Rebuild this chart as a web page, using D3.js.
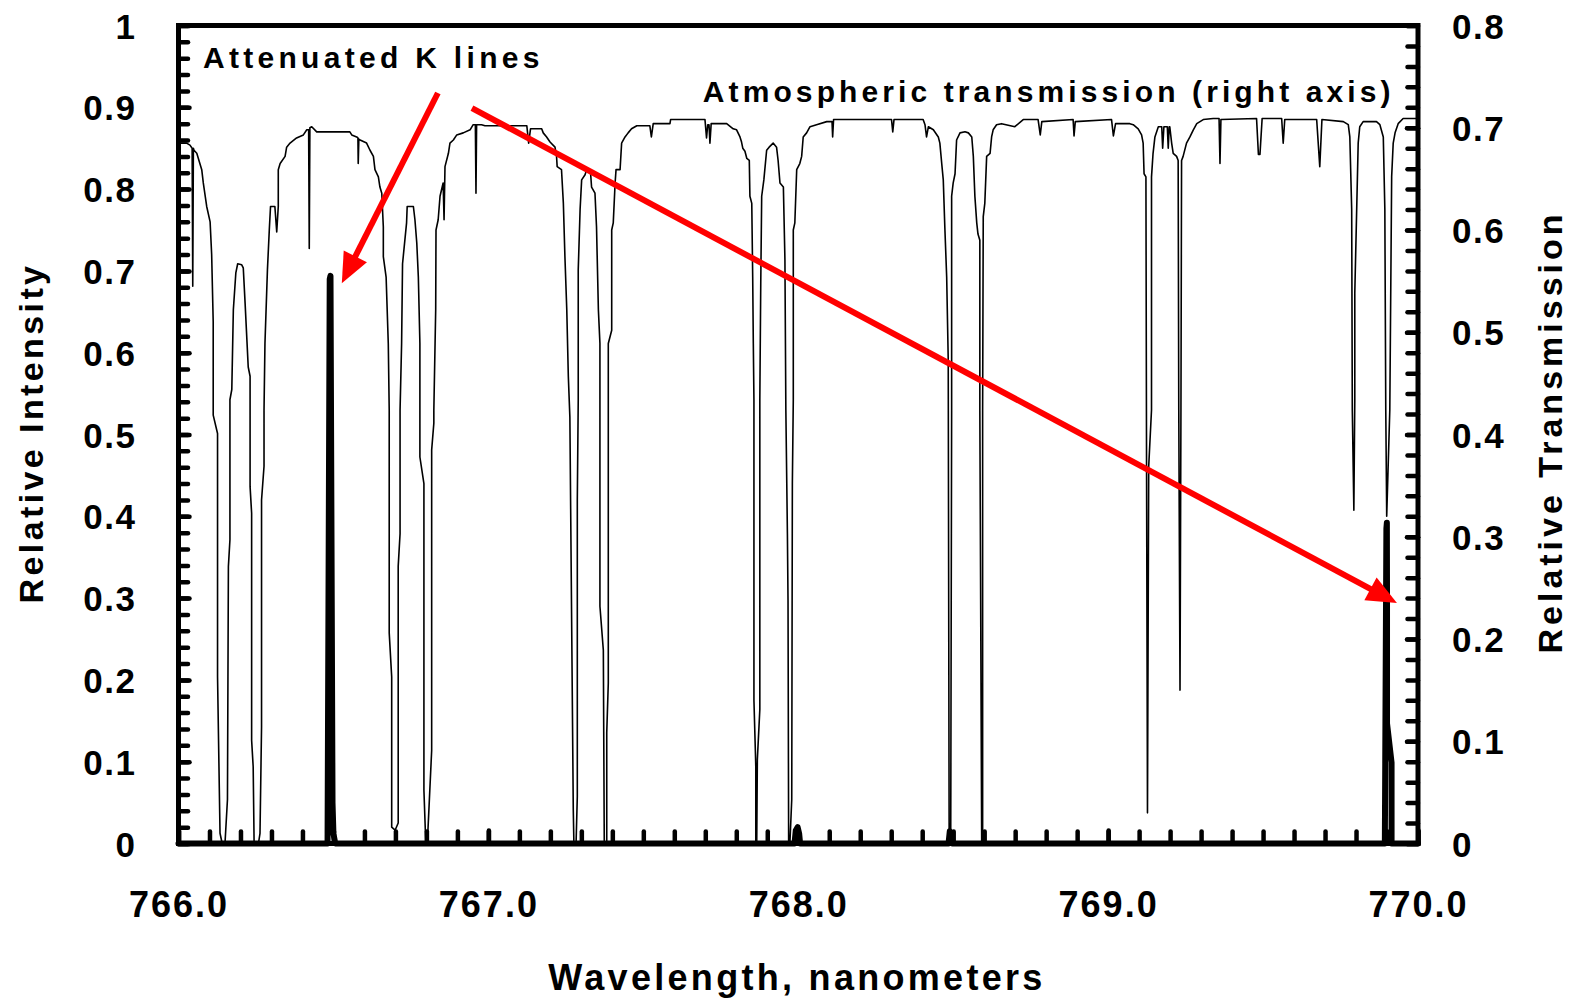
<!DOCTYPE html>
<html>
<head>
<meta charset="utf-8">
<title>Attenuated K lines</title>
<script src="https://d3js.org/d3.v7.min.js"></script>
<style>
	* { margin:0; padding:0; }
	body { background:#fff; }
	svg { display:block; font-family:"Liberation Sans", Arial, sans-serif; }
	svg text { font-weight:bold; fill:#000; }
	.axis .domain { display:none; }
	.axis line { stroke:#000; stroke-width:4.5; stroke-linecap:round; }
	.axis text { font-size:35px; letter-spacing:1.5px; font-family:"Liberation Sans", Arial, sans-serif; }
	.axis.x text { font-size:36px; letter-spacing:2px; }
</style>
</head>
<body>
<svg id="chart" width="1577" height="1000"></svg>
<script>
// atmospheric transmission (right axis)
const wavelength = [
	766.000,766.026,766.037,766.044,766.046,766.048,766.050,766.059,766.075,766.080,766.091,766.102,766.107,766.112,766.112,766.126,766.126,766.134,766.141,
	766.150,766.158,766.161,766.166,766.166,766.172,766.177,766.185,766.191,766.204,766.209,766.215,766.225,766.231,766.231,766.236,766.236,766.241,766.244,
	766.258,766.263,766.268,766.268,766.276,766.276,766.279,766.287,766.293,766.297,766.311,766.317,766.322,766.322,766.328,766.344,766.349,766.360,766.381,
	766.403,766.414,766.420,766.422,766.424,766.430,766.446,766.553,766.559,766.575,766.579,766.580,766.582,766.586,766.607,766.618,766.629,766.634,766.645,
	766.650,766.656,766.661,766.661,766.670,766.677,766.680,766.680,766.688,766.688,766.699,766.709,766.709,766.715,766.715,766.720,766.723,766.736,766.738,
	766.758,766.763,766.769,766.774,766.779,766.779,766.792,766.792,766.798,766.803,766.817,766.817,766.824,766.824,766.830,766.831,766.838,766.844,766.854,
	766.857,766.860,766.871,766.876,766.887,766.898,766.919,766.941,766.951,766.958,766.960,766.962,766.978,766.989,767.124,767.130,767.136,767.172,767.177,
	767.188,767.199,767.215,767.220,767.222,767.236,767.242,767.247,767.253,767.258,767.263,767.274,767.276,767.283,767.287,767.287,767.290,767.290,767.296,
	767.301,767.312,767.317,767.330,767.333,767.344,767.349,767.355,767.360,767.360,767.371,767.374,767.382,767.382,767.387,767.387,767.398,767.398,767.403,
	767.409,767.412,767.425,767.430,767.441,767.451,767.462,767.479,767.521,767.526,767.532,767.586,767.588,767.699,767.704,767.708,767.712,767.715,767.719,
	767.769,767.790,767.801,767.812,767.817,767.821,767.828,767.834,767.842,767.844,767.850,767.853,767.855,767.857,767.857,767.863,767.863,767.866,767.868,
	767.876,767.876,767.879,767.882,767.889,767.898,767.906,767.919,767.930,767.935,767.941,767.952,767.957,767.960,767.965,767.967,767.969,767.973,767.979,
	767.981,767.984,767.984,767.989,767.995,768.005,768.011,768.016,768.027,768.038,768.059,768.092,768.109,768.111,768.114,768.301,768.305,768.309,768.403,
	768.409,768.414,768.420,768.436,768.452,768.457,768.463,768.468,768.473,768.479,768.484,768.487,768.492,768.495,768.495,768.500,768.506,768.511,768.522,
	768.538,768.549,768.560,768.565,768.570,768.576,768.580,768.586,768.586,768.592,768.595,768.595,768.597,768.602,768.608,768.619,768.624,768.629,768.640,
	768.656,768.699,768.726,768.774,768.781,768.786,768.887,768.890,768.894,769.011,769.017,769.024,769.070,769.081,769.097,769.108,769.113,769.116,769.122,
	769.124,769.127,769.131,769.140,769.140,769.145,769.151,769.162,769.173,769.176,769.180,769.191,769.194,769.197,769.199,769.205,769.210,769.221,769.226,
	769.228,769.232,769.235,769.237,769.242,769.253,769.264,769.275,769.286,769.307,769.339,769.358,769.361,769.364,769.479,769.485,769.490,769.497,769.560,
	769.565,769.570,769.673,769.683,769.690,769.759,769.775,769.780,769.786,769.788,769.793,769.796,769.796,769.807,769.812,769.823,769.866,769.877,769.888,
	769.893,769.896,769.899,769.909,769.915,769.920,769.926,769.936,769.952,770.000
];
const transmission = [
	0.685,0.685,0.683,0.680,0.545,0.680,0.678,0.675,0.659,0.646,0.623,0.608,0.576,0.510,0.419,0.401,0.163,0.010,0.000,
	0.000,0.043,0.271,0.297,0.434,0.444,0.522,0.558,0.567,0.566,0.563,0.528,0.466,0.457,0.349,0.323,0.101,0.075,0.000,
	0.000,0.010,0.114,0.336,0.369,0.424,0.489,0.561,0.600,0.623,0.623,0.598,0.623,0.659,0.665,0.672,0.681,0.685,0.690,
	0.693,0.698,0.698,0.582,0.700,0.701,0.696,0.696,0.693,0.691,0.690,0.665,0.689,0.688,0.685,0.678,0.672,0.659,0.652,
	0.642,0.636,0.603,0.574,0.554,0.489,0.424,0.206,0.163,0.016,0.013,0.020,0.271,0.303,0.424,0.489,0.567,0.607,0.623,
	0.623,0.610,0.587,0.554,0.489,0.378,0.352,0.052,0.000,0.000,0.091,0.385,0.411,0.424,0.522,0.600,0.610,0.633,0.646,
	0.610,0.662,0.675,0.685,0.688,0.693,0.695,0.698,0.703,0.703,0.636,0.703,0.703,0.702,0.702,0.685,0.699,0.699,0.695,
	0.691,0.686,0.681,0.672,0.662,0.659,0.626,0.574,0.522,0.457,0.417,0.033,0.000,0.000,0.046,0.336,0.434,0.561,0.620,
	0.649,0.654,0.659,0.655,0.642,0.636,0.603,0.522,0.489,0.232,0.189,0.000,0.000,0.108,0.157,0.489,0.502,0.600,0.607,
	0.646,0.659,0.659,0.685,0.691,0.695,0.699,0.702,0.702,0.691,0.704,0.704,0.708,0.708,0.690,0.703,0.703,0.685,0.704,
	0.704,0.699,0.698,0.691,0.686,0.680,0.677,0.670,0.668,0.633,0.626,0.554,0.489,0.434,0.140,0.075,0.000,0.000,0.082,
	0.131,0.434,0.548,0.633,0.649,0.678,0.681,0.685,0.681,0.668,0.646,0.642,0.571,0.424,0.303,0.238,0.000,0.000,0.043,
	0.352,0.434,0.600,0.607,0.659,0.665,0.672,0.691,0.695,0.701,0.703,0.706,0.706,0.691,0.708,0.708,0.696,0.708,0.708,
	0.703,0.691,0.701,0.698,0.691,0.685,0.665,0.649,0.603,0.554,0.473,0.000,0.000,0.424,0.633,0.646,0.655,0.688,0.695,
	0.696,0.695,0.691,0.672,0.633,0.607,0.596,0.590,0.424,0.000,0.000,0.424,0.613,0.626,0.672,0.675,0.691,0.698,0.703,
	0.704,0.701,0.708,0.708,0.693,0.706,0.708,0.692,0.706,0.708,0.692,0.704,0.704,0.703,0.699,0.693,0.685,0.655,0.652,
	0.369,0.030,0.369,0.424,0.652,0.675,0.691,0.701,0.701,0.680,0.701,0.701,0.680,0.701,0.701,0.685,0.675,0.672,0.668,
	0.424,0.150,0.424,0.668,0.672,0.685,0.691,0.698,0.704,0.708,0.709,0.709,0.665,0.708,0.709,0.674,0.674,0.709,0.709,
	0.685,0.708,0.708,0.662,0.708,0.706,0.703,0.691,0.620,0.424,0.326,0.434,0.538,0.685,0.701,0.706,0.706,0.703,0.691,
	0.620,0.424,0.320,0.424,0.652,0.685,0.695,0.704,0.709,0.709
];

// attenuated K lines (left axis)
const kWavelength = [766.000,766.481,766.488,766.4905,766.497,766.500,766.506,767.988,767.992,767.998,768.003,768.006,
	768.485,768.489,768.494,768.497,769.893,769.898,769.8995,769.900,769.900,769.9147,769.9147,770.000];
const kIntensity = [0,0,0.690,0.694,0.050,0.012,0,0,0.016,0.020,0.012,0,
	0,0.015,0.012,0,0,0.385,0.392,0.300,0.147,0.099,0,0];

const leftTicks = [0,0.1,0.2,0.3,0.4,0.5,0.6,0.7,0.8,0.9,1];
const rightTicks = [0,0.1,0.2,0.3,0.4,0.5,0.6,0.7,0.8];
const xTicks = [766,767,768,769,770];

const svg = d3.select("#chart");
const plotL = 178.5, plotR = 1418, plotT = 25.5, plotB = 843.5;

const x = d3.scaleLinear().domain([766, 770]).range([plotL, plotR]);
const yL = d3.scaleLinear().domain([0, 1]).range([plotB, plotT]);
const yR = d3.scaleLinear().domain([0, 0.8]).range([plotB, plotT]);

const fmt = d => String(+d.toFixed(1));

// minor ticks
svg.append("g").attr("class", "axis").attr("transform", `translate(${plotL},0)`)
	.call(d3.axisLeft(yL).tickValues(d3.range(0, 51).map(i => i / 50)).tickSize(-9.5).tickFormat(""));
svg.append("g").attr("class", "axis").attr("transform", `translate(${plotR},0)`)
	.call(d3.axisRight(yR).tickValues(d3.range(0, 41).map(i => i / 50)).tickSize(-10.5).tickFormat(""));
svg.append("g").attr("class", "axis").attr("transform", `translate(0,${plotB})`)
	.call(d3.axisBottom(x).tickValues(d3.range(0, 41).map(i => 766 + i / 10)).tickSize(-12).tickFormat(""));

// labelled ticks
const gL = svg.append("g").attr("class", "axis").attr("transform", `translate(${plotL},0)`)
	.call(d3.axisLeft(yL).tickValues(leftTicks).tickSize(-11).tickPadding(42).tickFormat(fmt));
const gR = svg.append("g").attr("class", "axis").attr("transform", `translate(${plotR},0)`)
	.call(d3.axisRight(yR).tickValues(rightTicks).tickSize(-11).tickPadding(34).tickFormat(fmt));
const gB = svg.append("g").attr("class", "axis x").attr("transform", `translate(0,${plotB})`)
	.call(d3.axisBottom(x).tickValues(xTicks).tickSize(-13).tickPadding(48).tickFormat(d => d.toFixed(1)));
[gL, gR, gB].forEach(g => g.attr("font-size", null).attr("font-family", null));
gL.selectAll("text").attr("dy", 12.5);
gR.selectAll("text").attr("dy", 12.5);

// frame
svg.append("rect")
	.attr("x", plotL).attr("y", plotT)
	.attr("width", plotR - plotL).attr("height", plotB - plotT)
	.attr("fill", "none").attr("stroke", "#000").attr("stroke-width", 5);

// transmission line
const trans = wavelength.map((w, i) => [w, transmission[i]]);
svg.append("path")
	.datum(trans)
	.attr("fill", "none")
	.attr("stroke", "#000")
	.attr("stroke-width", 1.6)
	.attr("stroke-linejoin", "round")
	.attr("d", d3.line().x(d => x(d[0])).y(d => yR(d[1])));

// K lines
const kLines = kWavelength.map((w, i) => [w, kIntensity[i]]);
svg.append("path")
	.datum(kLines)
	.attr("fill", "none")
	.attr("stroke", "#000")
	.attr("stroke-width", 6)
	.attr("stroke-linejoin", "round")
	.attr("stroke-linecap", "round")
	.attr("d", d3.line().x(d => x(d[0])).y(d => yL(d[1])));

// annotations
function arrow(x1, y1, x2, y2) {
	const len = 30, half = 13;
	const dx = x2 - x1, dy = y2 - y1, d = Math.hypot(dx, dy);
	const ux = dx / d, uy = dy / d;
	const bx = x2 - ux * len, by = y2 - uy * len;
	svg.append("line")
		.attr("x1", x1).attr("y1", y1).attr("x2", bx + ux * 2).attr("y2", by + uy * 2)
		.attr("stroke", "#ff0000").attr("stroke-width", 6);
	svg.append("polygon")
		.attr("points", [[x2, y2], [bx - uy * half, by + ux * half], [bx + uy * half, by - ux * half]].join(" "))
		.attr("fill", "#ff0000");
}
arrow(x(766.837), yL(0.9175), x(766.527), yL(0.685));
arrow(x(766.947), yL(0.899), x(769.932), yL(0.294));

svg.append("text")
	.attr("x", x(766.079)).attr("y", yL(0.948))
	.style("font-size", "30px").style("letter-spacing", "4.3px")
	.text("Attenuated K lines");
svg.append("text")
	.attr("x", x(767.692)).attr("y", yL(0.907))
	.style("font-size", "30px").style("letter-spacing", "4.1px")
	.text("Atmospheric transmission (right axis)");

// axis titles
svg.append("text")
	.attr("transform", "translate(43,433) rotate(-90)")
	.attr("text-anchor", "middle")
	.style("font-size", "34px").style("letter-spacing", "3.4px")
	.text("Relative Intensity");
svg.append("text")
	.attr("transform", "translate(1562,432) rotate(-90)")
	.attr("text-anchor", "middle")
	.style("font-size", "34px").style("letter-spacing", "4px")
	.text("Relative Transmission");
svg.append("text")
	.attr("x", 797).attr("y", 990)
	.attr("text-anchor", "middle")
	.style("font-size", "36px").style("letter-spacing", "3.3px")
	.text("Wavelength, nanometers");
</script>
</body>
</html>
